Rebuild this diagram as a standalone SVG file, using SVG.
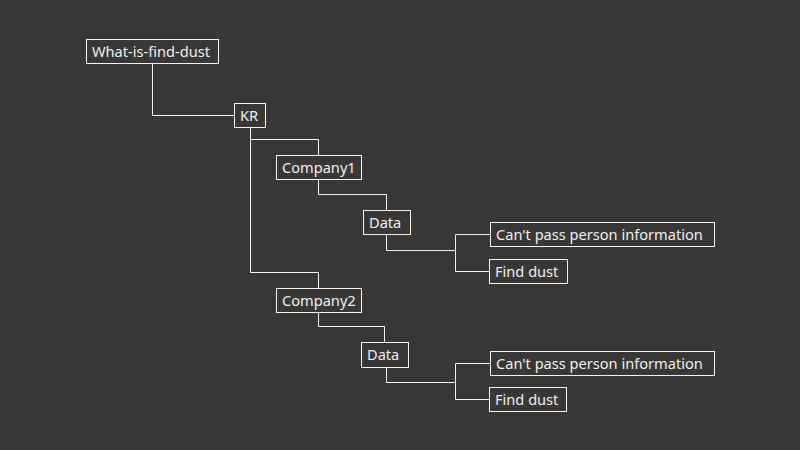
<svg xmlns="http://www.w3.org/2000/svg" width="800" height="450" viewBox="0 0 800 450">
<style>
.n rect{fill:none;stroke:#f2f2f2;stroke-width:1}
.n text{fill:#eeeeee;font-family:"Noto Sans","Open Sans",sans-serif;font-size:14.6px;dominant-baseline:central}
#edges path{fill:none;stroke:#f2f2f2;stroke-width:1}
</style>
<rect width="800" height="450" fill="#3a3836"/>
<g id="edges">
<path d="M152.5 63.5V115.5H234.5"/>
<path d="M250.5 127.5V139.5H318.5V155.5"/>
<path d="M250.5 139.5V272.5H318.5V288.5"/>
<path d="M318.5 179.5V194.5H386.5V210.5"/>
<path d="M386.5 234.5V250.5H455.5"/>
<path d="M455.5 234.5V271.5H489.5"/>
<path d="M455.5 234.5H490.5"/>
<path d="M318.5 312.5V326.5H384.5V342.5"/>
<path d="M386.5 367.5V382.5H455.5"/>
<path d="M455.5 363.5V399.5H489.5"/>
<path d="M455.5 363.5H490.5"/>
</g>
<g id="root" class="n"><rect x="86.5" y="39.5" width="132" height="24"/><text x="92" y="50.5">What-is-find-dust</text></g>
<g id="kr" class="n"><rect x="234.5" y="103.5" width="31" height="24"/><text x="240" y="114.5">KR</text></g>
<g id="company1" class="n"><rect x="276.5" y="155.5" width="85" height="24"/><text x="282" y="166.5">Company1</text></g>
<g id="data1" class="n"><rect x="363.5" y="210.5" width="47" height="24"/><text x="369" y="221.5">Data</text></g>
<g id="cant1" class="n"><rect x="490.5" y="222.5" width="224" height="24"/><text x="496" y="233.5">Can't pass person information</text></g>
<g id="find1" class="n"><rect x="489.5" y="259.5" width="78" height="24"/><text x="495" y="270.5">Find dust</text></g>
<g id="company2" class="n"><rect x="276.5" y="288.5" width="85" height="24"/><text x="282" y="299.5">Company2</text></g>
<g id="data2" class="n"><rect x="361.5" y="342.5" width="47" height="25"/><text x="367" y="354">Data</text></g>
<g id="cant2" class="n"><rect x="490.5" y="351.5" width="224" height="24"/><text x="496" y="362.5">Can't pass person information</text></g>
<g id="find2" class="n"><rect x="489.5" y="387.5" width="77" height="24"/><text x="495" y="398.5">Find dust</text></g>
</svg>
